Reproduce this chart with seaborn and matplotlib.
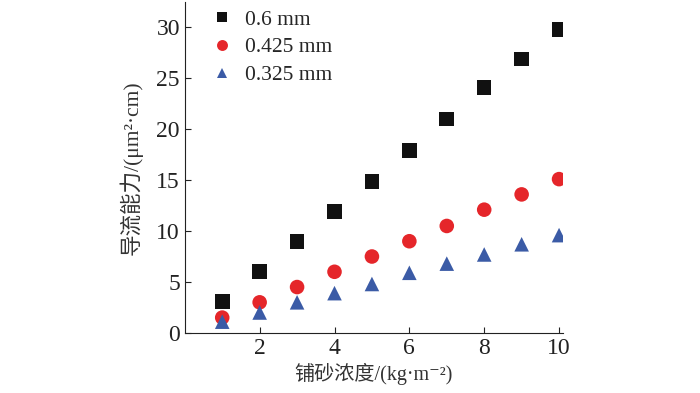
import pandas as pd
import matplotlib
matplotlib.use('Agg')
import matplotlib.pyplot as plt
import seaborn as sns

# sand concentration, kg/m^2
concentration = [1, 2, 3, 4, 5, 6, 7, 8, 9, 10]
# conductivity per grain size, um^2*cm
cond_06 = [3.1, 6.0, 9.0, 11.9, 14.85, 17.9, 21.0, 24.1, 26.9, 29.8]
cond_0425 = [1.5, 3.0, 4.5, 6.0, 7.5, 9.0, 10.5, 12.1, 13.6, 15.1]
cond_0325 = [1.1, 2.0, 3.0, 3.9, 4.8, 5.9, 6.8, 7.7, 8.7, 9.6]
sizes = ['0.6 mm', '0.425 mm', '0.325 mm']

df = pd.concat([
    pd.DataFrame({'x': concentration, 'y': vals, 'size': name})
    for name, vals in zip(sizes, [cond_06, cond_0425, cond_0325])
])

sns.set_style('ticks')
plt.rcParams['font.family'] = ['Liberation Serif', 'Noto Sans CJK SC', 'DejaVu Serif']

fig = plt.figure(figsize=(7, 3.93), dpi=100)
ax = fig.add_axes([0.264, 0.153, 0.54, 0.842])

palette = {'0.6 mm': '#111111', '0.425 mm': '#e5262a', '0.325 mm': '#3b5ba6'}
markers = {'0.6 mm': 's', '0.425 mm': 'o', '0.325 mm': '^'}
sns.scatterplot(data=df, x='x', y='y', hue='size', style='size',
                palette=palette, markers=markers, s=110, linewidth=0, ax=ax)

ax.set_xlim(0, 10.1)
ax.set_ylim(0, 32.5)
ax.set_xticks([2, 4, 6, 8, 10])
ax.set_yticks([0, 5, 10, 15, 20, 25, 30])
ax.tick_params(direction='in', labelsize=17, length=4, color='#222222',
               labelcolor='#222222')
for s in ['left', 'bottom']:
    ax.spines[s].set_color('#222222')
sns.despine(ax=ax)

ax.set_xlabel('铺砂浓度/(kg·m⁻²)', fontsize=14.5, color='#333333', labelpad=3)
ax.set_ylabel('导流能力/(μm²·cm)', fontsize=15.5, color='#333333', labelpad=10)

leg = ax.legend(loc='upper left', bbox_to_anchor=(-0.01, 1.035), frameon=False,
                fontsize=15.5, handletextpad=0.05, labelspacing=0.35, markerscale=0.75)

fig.savefig('out.png', dpi=100)
